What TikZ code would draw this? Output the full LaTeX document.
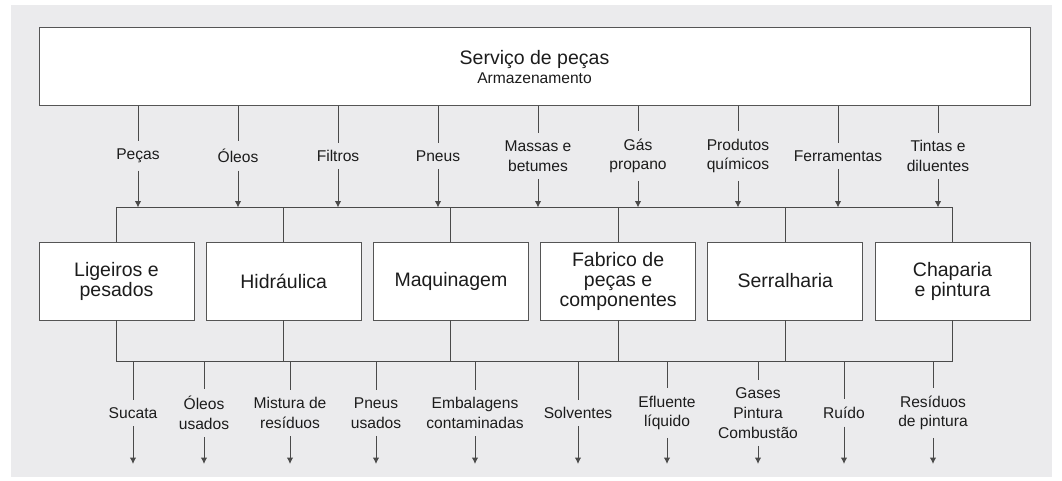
\documentclass[tikz,border=0pt]{standalone}
\usepackage{fontspec}
\setmainfont{Liberation Sans}
\usepackage{tikz}
\usetikzlibrary{arrows.meta, positioning, calc}
\definecolor{panel}{HTML}{EBEBED}
\definecolor{ink}{HTML}{1C1C1C}
\definecolor{wire}{HTML}{4A4A4A}
\definecolor{rim}{HTML}{555555}
\tikzset{
	every node/.style={
		align=center,
		text=ink,
	},
	mainbox/.style={
		draw=rim, fill=white, line width=1pt, inner sep=0pt, outer sep=0pt,
		minimum width=991pt, minimum height=78pt,
		font=\fontsize{15.6}{19}\selectfont,
	},
	unitbox/.style={
		draw=rim, fill=white, line width=1pt, inner sep=0pt, outer sep=0pt,
		minimum width=155pt, minimum height=78pt,
		font=\fontsize{19.5}{20}\selectfont,
	},
	flowlabel/.style={
		inner sep=7.5pt,
		font=\fontsize{15.6}{19.7}\selectfont,
	},
	wireline/.style={draw=wire, line width=1pt},
	flow/.style={wireline, -{Latex[length=6.5pt,width=6.5pt]}},
}

\begin{document}
\begin{tikzpicture}[x=1pt, y=-1pt]
    \useasboundingbox (0,0) rectangle (1062,481);
    \fill[panel] (11,5) rectangle (1052,477);

    \node[mainbox] (servico) at (534.5,67) {{\fontsize{19.5}{20}\selectfont Serviço de peças}\\Armazenamento};

    \node[flowlabel] (pecas) at (138,156) {Peças};
    \node[flowlabel] (oleos) at (238,156) {Óleos};
    \node[flowlabel] (filtros) at (338,156) {Filtros};
    \node[flowlabel] (pneus) at (438,156) {Pneus};
    \node[flowlabel] (massas) at (538,156) {Massas e\\betumes};
    \node[flowlabel] (gas) at (638,156) {Gás\\propano};
    \node[flowlabel] (quimicos) at (738,156) {Produtos\\químicos};
    \node[flowlabel] (ferramentas) at (838,156) {Ferramentas};
    \node[flowlabel] (tintas) at (938,156) {Tintas e\\diluentes};

    \coordinate (inbus) at (0,207.5);
    \coordinate (outbus) at (0,361);
    \coordinate (outend) at (0,464);

    \node[unitbox] (ligeiros) at (116.5,281) {Ligeiros e\\pesados};
    \node[unitbox, right=12.2pt of ligeiros] (hidraulica) {Hidráulica};
    \node[unitbox, right=12.2pt of hidraulica] (maquinagem) {Maquinagem};
    \node[unitbox, right=12.2pt of maquinagem] (fabrico) {Fabrico de\\peças e\\componentes};
    \node[unitbox, right=12.2pt of fabrico] (serralharia) {Serralharia};
    \node[unitbox, right=12.2pt of serralharia] (chaparia) {Chaparia\\e pintura};

    \node[flowlabel] (sucata) at (133,413) {Sucata};
    \node[flowlabel] (oleosusados) at (204,413) {Óleos\\usados};
    \node[flowlabel] (mistura) at (290,413) {Mistura de\\resíduos};
    \node[flowlabel] (pneususados) at (376,413) {Pneus\\usados};
    \node[flowlabel] (embalagens) at (475,413) {Embalagens\\contaminadas};
    \node[flowlabel] (solventes) at (578,413) {Solventes};
    \node[flowlabel] (efluente) at (667,413) {Efluente\\líquido};
    \node[flowlabel] (gases) at (758,413) {Gases\\Pintura\\Combustão};
    \node[flowlabel] (ruido) at (844,413) {Ruído};
    \node[flowlabel] (residuos) at (933,413) {Resíduos\\de pintura};

    \draw[wireline] (servico.south -| pecas) -- (pecas);
    \draw[wireline] (servico.south -| oleos) -- (oleos);
    \draw[wireline] (servico.south -| filtros) -- (filtros);
    \draw[wireline] (servico.south -| pneus) -- (pneus);
    \draw[wireline] (servico.south -| massas) -- (massas);
    \draw[wireline] (servico.south -| gas) -- (gas);
    \draw[wireline] (servico.south -| quimicos) -- (quimicos);
    \draw[wireline] (servico.south -| ferramentas) -- (ferramentas);
    \draw[wireline] (servico.south -| tintas) -- (tintas);

    \draw[flow] (pecas) -- (pecas |- inbus);
    \draw[flow] (oleos) -- (oleos |- inbus);
    \draw[flow] (filtros) -- (filtros |- inbus);
    \draw[flow] (pneus) -- (pneus |- inbus);
    \draw[flow] (massas) -- (massas |- inbus);
    \draw[flow] (gas) -- (gas |- inbus);
    \draw[flow] (quimicos) -- (quimicos |- inbus);
    \draw[flow] (ferramentas) -- (ferramentas |- inbus);
    \draw[flow] (tintas) -- (tintas |- inbus);

    \draw[wireline] (ligeiros.north) -- (ligeiros.north |- inbus) -- (chaparia.north |- inbus) -- (chaparia.north);
    \draw[wireline] (hidraulica.north) -- (hidraulica.north |- inbus);
    \draw[wireline] (maquinagem.north) -- (maquinagem.north |- inbus);
    \draw[wireline] (fabrico.north) -- (fabrico.north |- inbus);
    \draw[wireline] (serralharia.north) -- (serralharia.north |- inbus);

    \draw[wireline] (ligeiros.south) -- (ligeiros.south |- outbus) -- (chaparia.south |- outbus) -- (chaparia.south);
    \draw[wireline] (hidraulica.south) -- (hidraulica.south |- outbus);
    \draw[wireline] (maquinagem.south) -- (maquinagem.south |- outbus);
    \draw[wireline] (fabrico.south) -- (fabrico.south |- outbus);
    \draw[wireline] (serralharia.south) -- (serralharia.south |- outbus);

    \draw[wireline] (outbus -| sucata) -- (sucata);
    \draw[wireline] (outbus -| oleosusados) -- (oleosusados);
    \draw[wireline] (outbus -| mistura) -- (mistura);
    \draw[wireline] (outbus -| pneususados) -- (pneususados);
    \draw[wireline] (outbus -| embalagens) -- (embalagens);
    \draw[wireline] (outbus -| solventes) -- (solventes);
    \draw[wireline] (outbus -| efluente) -- (efluente);
    \draw[wireline] (outbus -| gases) -- (gases);
    \draw[wireline] (outbus -| ruido) -- (ruido);
    \draw[wireline] (outbus -| residuos) -- (residuos);

    \draw[flow] (sucata) -- (sucata |- outend);
    \draw[flow] (oleosusados) -- (oleosusados |- outend);
    \draw[flow] (mistura) -- (mistura |- outend);
    \draw[flow] (pneususados) -- (pneususados |- outend);
    \draw[flow] (embalagens) -- (embalagens |- outend);
    \draw[flow] (solventes) -- (solventes |- outend);
    \draw[flow] (efluente) -- (efluente |- outend);
    \draw[flow] (gases) -- (gases |- outend);
    \draw[flow] (ruido) -- (ruido |- outend);
    \draw[flow] (residuos) -- (residuos |- outend);
\end{tikzpicture}
\end{document}
